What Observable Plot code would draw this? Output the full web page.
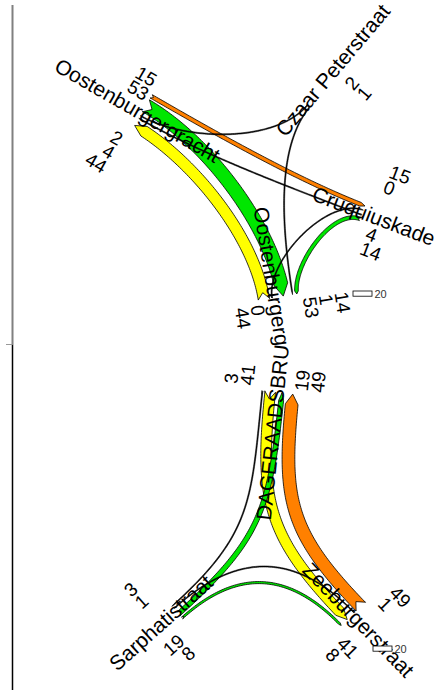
<!DOCTYPE html>
<html><head><meta charset="utf-8">
<script src="https://cdn.jsdelivr.net/npm/d3@7"></script>
<script src="https://cdn.jsdelivr.net/npm/@observablehq/plot@0.6"></script>
<style>body{margin:0;background:#fff;} svg{display:block;}</style>
</head><body><div id="chart"></div>
<script>
// ---------------- data ----------------
const topArms = ["NW", "CP", "CQ", "S"];
const topArmNames = ["Oostenburgergracht", "Czaar Peterstraat", "Cruquiuskade", "Oostenburgergracht"];
const topFrom   = ["NW", "CP", "CP", "S",  "NW", "CQ", "CQ", "S"];
const topTo     = ["S",  "NW", "S",  "CQ", "CQ", "NW", "S",  "NW"];
const topValues = [53,   2,    1,    0,    15,   4,    14,   44];

const bottomArms = ["D", "SA", "Z"];
const bottomArmNames = ["DAGERAADSBRUG", "Sarphatistraat", "Zeeburgerstraat"];
const bottomFrom   = ["D", "SA", "Z",  "D",  "SA", "Z"];
const bottomTo     = ["Z", "D",  "SA", "SA", "Z",  "D"];
const bottomValues = [41,  19,   1,    3,    8,    49];

const legendValue = 20;

// ---------------- styles ----------------
const GREEN = "#00e600", YELLOW = "#ffff00", ORANGE = "#ff8000";
const topColors = [GREEN, YELLOW, GREEN, ORANGE, ORANGE, YELLOW, GREEN, YELLOW];
const bottomColors = [YELLOW, GREEN, ORANGE, YELLOW, GREEN, ORANGE];
const FONT = "Liberation Sans, Arial, Helvetica, sans-serif";

// ---------------- layout ----------------
const layout = {
  k: 0.26, gap0: 2, gap: 2, minW: 1, numStep: 16, thinW: 2,
  top: {
    height: 345, y0: 0, curl: 0.3,
    axis: {x: 12, y1: 5, y2: 345, color: "#808080", width: 2},
    tick: {y: 344, x1: 6, x2: 12},
    legend: {x: 353, y: 291},
    arms: {
      NW: {x: 141, y: 113, angle: 30, inward: 1, outSide: -1, labelShift: 5, numOut: 4, r0: {"-1": 18, "1": 34}},
      CP: {x: 305, y: 103, angle: -50, inward: -1, outSide: 1, labelShift: 43, numOut: 40, r0: {"-1": 23, "1": 23}},
      CQ: {x: 362, y: 212, angle: 21, inward: -1, outSide: 1, labelShift: 12, numOut: 11, r0: {"-1": 32, "1": 18}},
      S:  {x: 274, y: 297, angle: 81, inward: -1, outSide: 1, labelShift: 2, numOut: 5, r0: {"-1": 34, "1": 19}}
    }
  },
  bottom: {
    height: 347, y0: 345, curl: 0.47,
    axis: {x: 12, y1: 345, y2: 690, color: "#000000", width: 1.5},
    tick: null,
    legend: {x: 373, y: 646},
    arms: {
      D:  {x: 277, y: 392, angle: -84, inward: -1, outSide: -1, labelShift: -32, numOut: 4, r0: {"-1": 31, "1": 24}},
      SA: {x: 175, y: 610, angle: -42, inward: 1, outSide: 1, labelShift: 19, numOut: 14, r0: {"-1": 29, "1": 25}},
      Z:  {x: 352, y: 614, angle: 46, inward: -1, outSide: -1, labelShift: 8, numOut: 10, r0: {"-1": 30, "1": 27}}
    }
  }
};

// ---------------- geometry helpers ----------------
function bez(P0, P1, P2, P3, t) {
  const u = 1 - t;
  const b0 = u*u*u, b1 = 3*u*u*t, b2 = 3*u*t*t, b3 = t*t*t;
  const x = b0*P0[0] + b1*P1[0] + b2*P2[0] + b3*P3[0];
  const y = b0*P0[1] + b1*P1[1] + b2*P2[1] + b3*P3[1];
  const d0 = 3*u*u, d1 = 6*u*t, d2 = 3*t*t;
  const dx = d0*(P1[0]-P0[0]) + d1*(P2[0]-P1[0]) + d2*(P3[0]-P2[0]);
  const dy = d0*(P1[1]-P0[1]) + d1*(P2[1]-P1[1]) + d2*(P3[1]-P2[1]);
  const m = Math.hypot(dx, dy) || 1;
  return {x, y, tx: dx/m, ty: dy/m};
}

function ribbon(f, A, B, curl) {
  const P0 = f.p0, P3 = f.p3;
  const dist = Math.hypot(P3[0]-P0[0], P3[1]-P0[1]);
  const c = curl * dist;
  const P1 = [P0[0] + A.din[0]*c, P0[1] + A.din[1]*c];
  const P2 = [P3[0] + B.din[0]*c, P3[1] + B.din[1]*c];
  const N = 90, s = [];
  let len = 0;
  for (let j = 0; j <= N; j++) {
    const q = bez(P0, P1, P2, P3, j/N);
    if (j > 0) len += Math.hypot(q.x - s[j-1].x, q.y - s[j-1].y);
    q.len = len; s.push(q);
  }
  const total = len, hw = f.w/2;
  const tipLen = Math.min(Math.max(f.w*0.8, 2), total*0.2);
  const notchLen = Math.min(f.w*0.5, total*0.1);
  const body = s.filter(q => q.len <= total - tipLen);
  const left = body.map(q => ({x: q.x - q.ty*hw, y: q.y + q.tx*hw}));
  const right = body.map(q => ({x: q.x + q.ty*hw, y: q.y - q.tx*hw})).reverse();
  const nq = s.find(q => q.len >= notchLen) || s[0];
  return [...left, {x: P3[0], y: P3[1]}, ...right, {x: nq.x, y: nq.y}, left[0]];
}

function panel(arms, names, from, to, values, colors, L) {
  const geo = {};
  arms.forEach((id, i) => {
    const a = L.arms[id];
    const r = a.angle * Math.PI / 180;
    const din = [Math.cos(r)*a.inward, Math.sin(r)*a.inward];
    geo[id] = {...a, id, name: names[i], din, out: [-din[0], -din[1]], p: [-Math.sin(r), Math.cos(r)], numbers: []};
  });
  const flows = values.map((v, i) => ({i, from: from[i], to: to[i], value: v, color: colors[i], w: Math.max(layout.minW, v*layout.k)}));

  arms.forEach(id => {
    const g = geo[id];
    const outs = flows.filter(f => f.from === id);
    const ins = flows.filter(f => f.to === id);
    const place = (list, side, key) => {
      let cur = layout.gap0;
      list.forEach(f => {
        const c = cur + f.w/2;
        f[key] = [g.x + side*c*g.p[0], g.y + side*c*g.p[1]];
        cur += f.w + layout.gap;
      });
    };
    place(outs, g.outSide, "p0");
    place(ins, -g.outSide, "p3");
    const addNums = (list, side) => list.forEach((f, j) => {
      const rr = g.r0[String(side)] + j*layout.numStep;
      g.numbers.push({
        x: g.x + side*rr*g.p[0] + g.numOut*g.out[0],
        y: g.y + side*rr*g.p[1] + g.numOut*g.out[1],
        text: String(f.value)
      });
    });
    addNums(outs, g.outSide);
    addNums(ins, -g.outSide);
  });

  const marks = [];
  marks.push(Plot.ruleX([L.axis], {x: d => d.x, y1: d => d.y1, y2: d => d.y2, stroke: L.axis.color, strokeWidth: L.axis.width}));
  if (L.tick) marks.push(Plot.ruleY([L.tick], {y: d => d.y, x1: d => d.x1, x2: d => d.x2, stroke: "#999", strokeWidth: 1}));

  flows.slice().sort((a, b) => b.w - a.w).forEach(f => {
    const thin = f.w < layout.thinW;
    marks.push(Plot.line(ribbon(f, geo[f.from], geo[f.to], L.curl), {
      x: "x", y: "y", fill: thin ? "black" : f.color, stroke: "black",
      strokeWidth: thin ? 0.6 : 0.8, strokeLinejoin: "miter", strokeMiterlimit: 4
    }));
  });

  arms.forEach(id => {
    const g = geo[id];
    marks.push(Plot.text([g], {
      x: d => d.x + d.labelShift*d.out[0], y: d => d.y + d.labelShift*d.out[1],
      text: d => d.name, rotate: g.angle, fontSize: 21, fontFamily: FONT,
      textAnchor: "middle", lineAnchor: "middle", fill: "black"
    }));
    marks.push(Plot.text(g.numbers, {
      x: "x", y: "y", text: "text", rotate: g.angle, fontSize: 19, fontFamily: FONT,
      textAnchor: g.inward > 0 ? "end" : "start", lineAnchor: "middle", fill: "black"
    }));
  });

  marks.push(Plot.rect([L.legend], {
    x1: d => d.x, x2: d => d.x + 19, y1: d => d.y, y2: d => d.y + legendValue*layout.k,
    fill: "white", stroke: "black", strokeWidth: 0.8
  }));
  marks.push(Plot.text([L.legend], {
    x: d => d.x + 21, y: d => d.y + legendValue*layout.k/2, text: () => String(legendValue),
    fontSize: 11, fontFamily: FONT, textAnchor: "start", lineAnchor: "middle", fill: "#333"
  }));

  return Plot.plot({
    width: 438, height: L.height, margin: 0,
    x: {domain: [0, 438], axis: null},
    y: {domain: [L.y0, L.y0 + L.height], reverse: true, axis: null},
    style: {overflow: "hidden", background: "white"},
    marks
  });
}

const root = document.getElementById("chart");
root.appendChild(panel(topArms, topArmNames, topFrom, topTo, topValues, topColors, layout.top));
root.appendChild(panel(bottomArms, bottomArmNames, bottomFrom, bottomTo, bottomValues, bottomColors, layout.bottom));
</script>
</body></html>
